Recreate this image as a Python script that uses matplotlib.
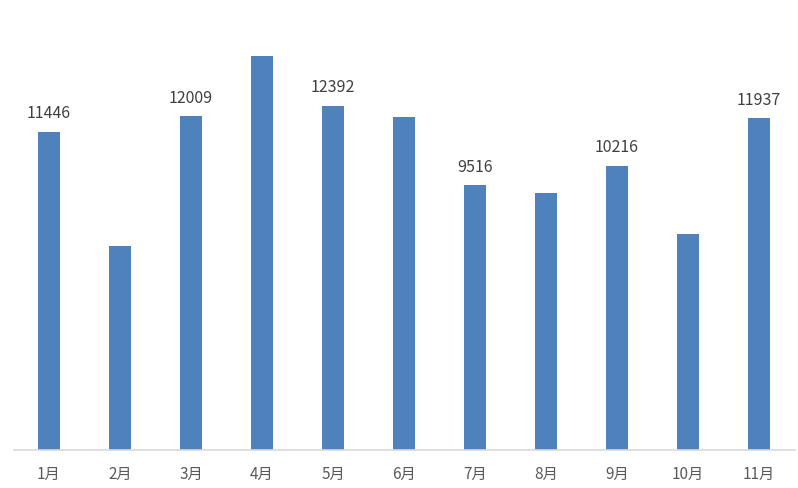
import matplotlib.pyplot as plt

plt.rcParams['font.family'] = ['Noto Sans CJK SC', 'DejaVu Sans']

months = ["1月", "2月", "3月", "4月", "5月", "6月", "7月", "8月", "9月", "10月", "11月"]
values = [11446, 7340, 12009, 14170, 12392, 11970, 9516, 9255, 10216, 7770, 11937]
labeled = [True, False, True, False, True, False, True, False, True, False, True]

fig = plt.figure(figsize=(7.98, 4.88), dpi=100)
ax = fig.add_axes([13.5 / 798, 38.5 / 488, 781 / 798, 442.6 / 488])

x = range(len(months))
bars = ax.bar(x, values, width=0.31, color="#4F81BD", zorder=2)

for i, b in enumerate(bars):
    if labeled[i]:
        ax.annotate(str(values[i]), (b.get_x() + b.get_width() / 2, values[i]),
                    xytext=(0, 7), textcoords="offset points",
                    ha="center", va="bottom", fontsize=11.5, color="#404040")

ax.set_xlim(-0.5, len(months) - 0.5)
ax.set_ylim(0, 15950)
ax.set_xticks(list(x))
ax.set_xticklabels(months, fontsize=11, color="#595959")
ax.tick_params(axis="x", length=0, pad=12)
ax.set_yticks([])
for side in ["top", "right", "left"]:
    ax.spines[side].set_visible(False)
ax.spines["bottom"].set_color("#D9D9D9")
ax.spines["bottom"].set_linewidth(1.2)

fig.savefig("out.png", dpi=100)
